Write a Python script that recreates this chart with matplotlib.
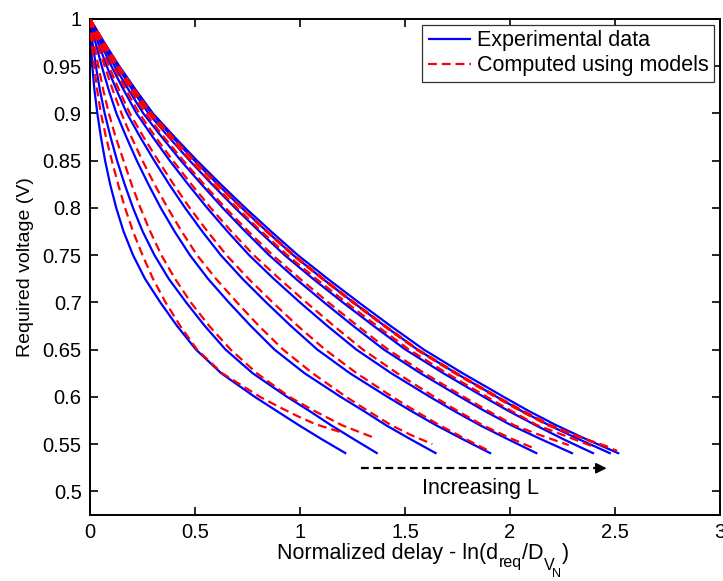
import matplotlib
matplotlib.use("Agg")
import matplotlib.pyplot as plt

plt.rcParams['font.family'] = ['Liberation Sans', 'DejaVu Sans']

# Supply voltage levels (V) at which the measured delay curves are sampled
voltage_levels = [1.0, 0.975, 0.95, 0.925, 0.9, 0.875, 0.85, 0.825, 0.8, 0.775, 0.75,
                  0.725, 0.7, 0.675, 0.65, 0.625, 0.6, 0.585, 0.57, 0.555, 0.54]

# Measured normalized delay ln(d_req / D_VN), one list per channel length (short -> long)
measured_delay = [
    [0, .004, .011, .021, .035, .052, .072, .096, .125, .160, .205, .262, .335, .415, .505, .625, .785, .890, .995, 1.105, 1.22],
    [0, .012, .028, .047, .070, .098, .129, .165, .205, .251, .307, .375, .458, .547, .646, .775, .939, 1.046, 1.148, 1.258, 1.37],
    [0, .026, .056, .089, .126, .173, .223, .278, .337, .403, .476, .562, .661, .766, .879, 1.022, 1.194, 1.304, 1.410, 1.528, 1.65],
    [0, .038, .080, .126, .176, .239, .306, .377, .453, .535, .623, .726, .839, .957, 1.083, 1.238, 1.417, 1.530, 1.648, 1.777, 1.91],
    [0, .049, .102, .160, .222, .299, .380, .467, .558, .655, .758, .875, 1.000, 1.131, 1.269, 1.435, 1.619, 1.735, 1.857, 1.992, 2.13],
    [0, .057, .117, .184, .254, .342, .433, .531, .632, .740, .853, .980, 1.115, 1.254, 1.400, 1.574, 1.763, 1.880, 2.006, 2.150, 2.30],
    [0, .063, .130, .202, .279, .375, .475, .581, .691, .807, .927, 1.062, 1.204, 1.351, 1.503, 1.683, 1.875, 1.994, 2.122, 2.256, 2.40],
    [0, .066, .136, .213, .293, .393, .498, .608, .723, .843, .968, 1.108, 1.254, 1.404, 1.560, 1.743, 1.937, 2.056, 2.186, 2.330, 2.48],
    [0, .068, .140, .218, .300, .403, .510, .623, .740, .863, .990, 1.132, 1.280, 1.432, 1.590, 1.775, 1.970, 2.090, 2.220, 2.365, 2.52],
]

# Model predictions: voltage and delay for each channel length
model_voltage = [
    [1.0, 0.975, 0.95, 0.925, 0.9, 0.875, 0.85, 0.825, 0.8, 0.775, 0.75, 0.725, 0.7, 0.675, 0.65, 0.625, 0.6, 0.59, 0.58, 0.571, 0.563],
    [1.0, 0.975, 0.95, 0.925, 0.9, 0.875, 0.85, 0.825, 0.8, 0.775, 0.75, 0.725, 0.7, 0.675, 0.65, 0.625, 0.6, 0.585, 0.57, 0.557],
    [1.0, 0.975, 0.95, 0.925, 0.9, 0.875, 0.85, 0.825, 0.8, 0.775, 0.75, 0.725, 0.7, 0.675, 0.65, 0.625, 0.6, 0.585, 0.57, 0.56, 0.55],
    [1.0, 0.975, 0.95, 0.925, 0.9, 0.875, 0.85, 0.825, 0.8, 0.775, 0.75, 0.725, 0.7, 0.675, 0.65, 0.625, 0.6, 0.585, 0.57, 0.557, 0.544],
    [1.0, 0.975, 0.95, 0.925, 0.9, 0.875, 0.85, 0.825, 0.8, 0.775, 0.75, 0.725, 0.7, 0.675, 0.65, 0.625, 0.6, 0.585, 0.57, 0.557, 0.545],
    [1.0, 0.975, 0.95, 0.925, 0.9, 0.875, 0.85, 0.825, 0.8, 0.775, 0.75, 0.725, 0.7, 0.675, 0.65, 0.625, 0.6, 0.585, 0.57, 0.559, 0.549],
    [1.0, 0.975, 0.95, 0.925, 0.9, 0.875, 0.85, 0.825, 0.8, 0.775, 0.75, 0.725, 0.7, 0.675, 0.65, 0.625, 0.6, 0.585, 0.57, 0.559, 0.548],
    [1.0, 0.975, 0.95, 0.925, 0.9, 0.875, 0.85, 0.825, 0.8, 0.775, 0.75, 0.725, 0.7, 0.675, 0.65, 0.625, 0.6, 0.585, 0.57, 0.558, 0.547],
    [1.0, 0.975, 0.95, 0.925, 0.9, 0.875, 0.85, 0.825, 0.8, 0.775, 0.75, 0.725, 0.7, 0.675, 0.65, 0.625, 0.6, 0.585, 0.57, 0.556, 0.543],
]
model_delay = [
    [0, .008, .020, .034, .052, .076, .104, .134, .167, .205, .250, .300, .360, .430, .510, .630, .810, .895, .985, 1.075, 1.19],
    [0, .018, .040, .063, .090, .122, .160, .198, .240, .287, .340, .405, .480, .568, .670, .795, .950, 1.070, 1.200, 1.35],
    [0, .034, .070, .108, .150, .197, .250, .307, .370, .437, .510, .600, .700, .805, .920, 1.060, 1.220, 1.325, 1.435, 1.525, 1.63],
    [0, .044, .090, .138, .190, .255, .325, .398, .475, .560, .650, .755, .870, .990, 1.120, 1.270, 1.440, 1.550, 1.665, 1.775, 1.89],
    [0, .054, .110, .171, .235, .312, .395, .483, .575, .674, .780, .902, 1.030, 1.162, 1.300, 1.463, 1.640, 1.752, 1.870, 1.995, 2.12],
    [0, .062, .125, .193, .265, .352, .445, .543, .645, .755, .870, 1.000, 1.135, 1.275, 1.420, 1.593, 1.780, 1.897, 2.020, 2.150, 2.28],
    [0, .064, .130, .203, .280, .377, .480, .588, .700, .817, .940, 1.077, 1.220, 1.367, 1.520, 1.700, 1.890, 2.008, 2.130, 2.260, 2.39],
    [0, .066, .135, .210, .290, .390, .495, .605, .720, .840, .965, 1.105, 1.250, 1.400, 1.555, 1.737, 1.930, 2.050, 2.180, 2.325, 2.47],
    [0, .067, .137, .213, .293, .394, .498, .609, .724, .846, .972, 1.112, 1.258, 1.408, 1.563, 1.748, 1.942, 2.065, 2.195, 2.350, 2.51],
]

x_ticks = [0, 0.5, 1, 1.5, 2, 2.5, 3]
x_tick_labels = ['0', '0.5', '1', '1.5', '2', '2.5', '3']
y_ticks = [0.5, 0.55, 0.6, 0.65, 0.7, 0.75, 0.8, 0.85, 0.9, 0.95, 1.0]
y_tick_labels = ['0.5', '0.55', '0.6', '0.65', '0.7', '0.75', '0.8', '0.85', '0.9', '0.95', '1']

# Annotation arrow for increasing channel length
arrow_start = (1.29, 0.5245)
arrow_end = (2.46, 0.5245)
arrow_text = 'Increasing L'
arrow_text_pos = (1.86, 0.503)

FS_TICK = 14.5
FS_TEXT = 15.5

W, H = 723, 581
fig = plt.figure(figsize=(W / 100, H / 100), dpi=100)
ax = fig.add_axes([90 / W, 66 / H, 630 / W, 496 / H])

for i, xs in enumerate(measured_delay):
    ax.plot(xs, voltage_levels, color='#0000ff', lw=1.6, solid_capstyle='butt',
            solid_joinstyle='round',
            label='Experimental data' if i == 0 else None, zorder=2)
for i, (xs, vs) in enumerate(zip(model_delay, model_voltage)):
    ax.plot(xs, vs, color='#ff0000', lw=1.6, linestyle=(0, (4, 2.2)),
            label='Computed using models' if i == 0 else None, zorder=3)

# dashed arrow
ax.plot([arrow_start[0], arrow_end[0] - 0.03], [arrow_start[1], arrow_end[1]],
        color='black', lw=1.6, linestyle=(0, (3.5, 2)), zorder=4)
ax.annotate('', xy=arrow_end, xytext=(arrow_end[0] - 0.06, arrow_end[1]),
            arrowprops=dict(arrowstyle='-|>', color='black', lw=1.2,
                            mutation_scale=16, shrinkA=0, shrinkB=0), zorder=5)
ax.text(arrow_text_pos[0], arrow_text_pos[1], arrow_text, fontsize=FS_TEXT,
        ha='center', va='center')

ax.set_xlim(0, 3)
ax.set_ylim(0.475, 1.0)
ax.set_xticks(x_ticks)
ax.set_xticklabels(x_tick_labels)
ax.set_yticks(y_ticks)
ax.set_yticklabels(y_tick_labels)
ax.tick_params(direction='in', length=6, width=1.2, labelsize=FS_TICK,
               top=True, right=True, pad=6)
for s in ax.spines.values():
    s.set_linewidth(1.4)

ax.set_ylabel('Required voltage (V)', fontsize=14, labelpad=6)

# x label assembled piece by piece so the nested subscripts sit low
renderer = fig.canvas.get_renderer()
label_parts = [
    ('Normalized delay - ln(d', FS_TEXT, 0, 0),
    ('req', 11.5, 8, 1),
    ('/D', FS_TEXT, 0, 0),
    ('V', 11.5, 11, 0),
    ('N', 9.0, 18, -2),
    (')', FS_TEXT, 0, 1),
]
x_px = 277
baseline_px = 559
prev_right = x_px
for txt, size, drop, gap in label_parts:
    start = prev_right + gap
    t = fig.text(start / W, (H - baseline_px - drop) / H, txt, fontsize=size,
                 ha='left', va='baseline')
    bb = t.get_window_extent(renderer)
    right = start + bb.width
    prev_right = max(right, prev_right) if txt == 'N' else right

leg = ax.legend(loc='upper right', fontsize=FS_TEXT, frameon=True, fancybox=False,
                edgecolor='#303030', framealpha=1, handlelength=2.0,
                handletextpad=0.3, labelspacing=0.2, borderpad=0.25,
                borderaxespad=0.27)
leg.get_frame().set_linewidth(0.9)

fig.savefig('out.png', dpi=100)
